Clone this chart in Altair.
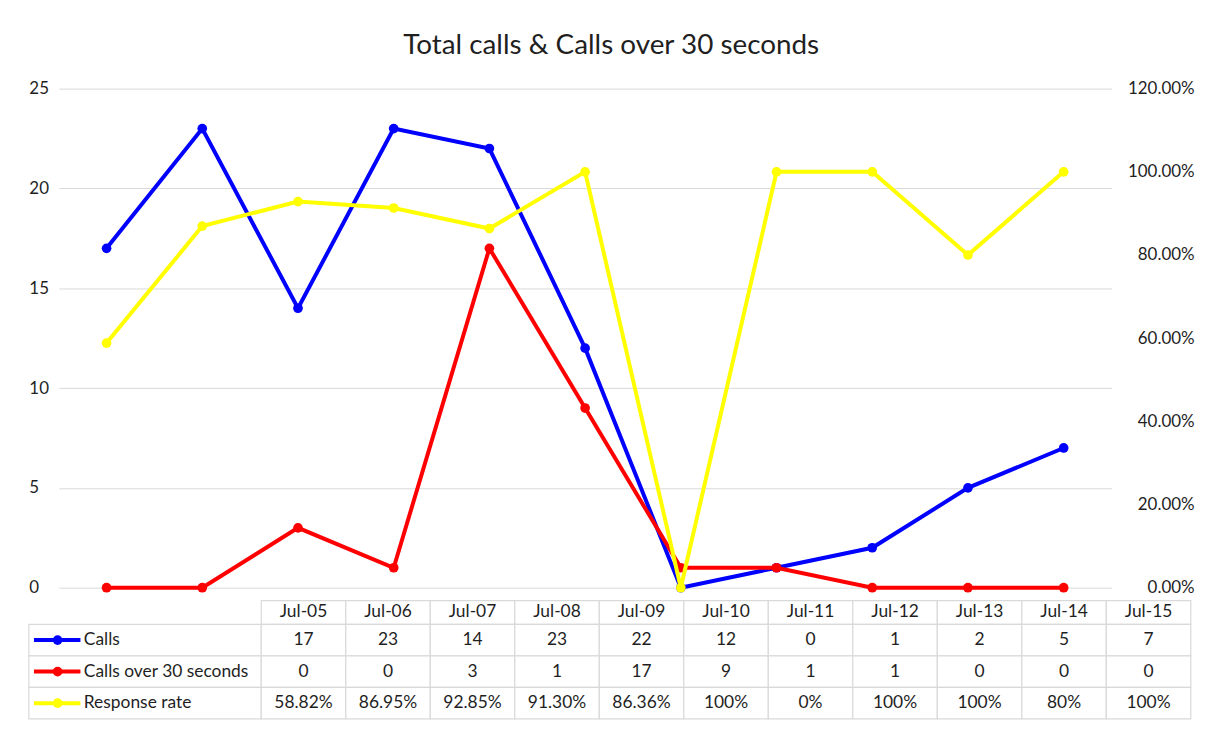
import altair as alt
import pandas as pd

# ---------------- data ----------------
dates = ["Jul-05", "Jul-06", "Jul-07", "Jul-08", "Jul-09", "Jul-10",
         "Jul-11", "Jul-12", "Jul-13", "Jul-14", "Jul-15"]
calls = [17, 23, 14, 23, 22, 12, 0, 1, 2, 5, 7]
calls_over_30 = [0, 0, 3, 1, 17, 9, 1, 1, 0, 0, 0]
response_rate = [58.82, 86.95, 92.85, 91.30, 86.36, 100, 0, 100, 100, 80, 100]
response_labels = ["58.82%", "86.95%", "92.85%", "91.30%", "86.36%", "100%",
                   "0%", "100%", "100%", "80%", "100%"]
series_names = ["Calls", "Calls over 30 seconds", "Response rate"]
series_colors = ["#0000FF", "#FF0000", "#FFFF00"]
left_ticks = [0, 5, 10, 15, 20, 25]
right_ticks = [0, 0.2, 0.4, 0.6, 0.8, 1.0, 1.2]
title_text = "Total calls & Calls over 30 seconds"

FONT = "Lato"
TXT = "#1f1f1f"
GRID = "#d9d9d9"
W, H = 1059, 502

df = pd.DataFrame({
    "date": dates,
    "calls": calls,
    "over30": calls_over_30,
    "rate": [v / 100 for v in response_rate],
})

x_enc = alt.X("date:O", sort=dates, axis=None, scale=alt.Scale(padding=0.5))

left_axis = alt.Axis(values=left_ticks, grid=True, gridColor=GRID, gridWidth=1,
                     domain=False, ticks=False, labelAlign="left", labelPadding=30,
                     labelFont=FONT, labelFontSize=17, labelColor=TXT, title=None)
right_axis = alt.Axis(orient="right", values=right_ticks, format=".2%", grid=False,
                      domain=False, ticks=False, labelAlign="right", labelPadding=83,
                      labelFont=FONT, labelFontSize=17, labelColor=TXT, title=None)

left_scale = alt.Scale(domain=[0, 25])
right_scale = alt.Scale(domain=[0, 1.2])


def series(field, color, scale, axis):
    base = alt.Chart(df).encode(
        x=x_enc, y=alt.Y(f"{field}:Q", scale=scale, axis=axis))
    line = base.mark_line(color=color, strokeWidth=4)
    pts = base.mark_point(filled=True, color=color, size=95, opacity=1)
    return line, pts


bl, bp = series("calls", series_colors[0], left_scale, left_axis)
rl, rp = series("over30", series_colors[1], left_scale, left_axis)
yl, yp = series("rate", series_colors[2], right_scale, right_axis)

left_layer = alt.layer(bl, bp, rl, rp)
right_layer = alt.layer(yl, yp)
top = alt.layer(left_layer, right_layer).resolve_scale(y="independent").properties(
    width=W, height=H)

# ---------------- data table ----------------
LABEL_W = 2.75
HEADER_H = 0.75
n = len(dates)
TABLE_H = 119

cells = []
for r in range(4):
    for c in range(-1, n):
        if r == 0 and c == -1:
            continue
        x0 = -LABEL_W if c == -1 else c
        x1 = 0 if c == -1 else c + 1
        y0 = 0 if r == 0 else HEADER_H + (r - 1)
        y1 = HEADER_H if r == 0 else HEADER_H + r
        cells.append({"x0": x0, "x1": x1, "y0": y0, "y1": y1})
cells_df = pd.DataFrame(cells)

texts = []
for c, d in enumerate(dates):
    texts.append({"x": c + 0.5, "y": HEADER_H / 2, "t": d})
row_values = [
    [str(v) for v in calls],
    [str(v) for v in calls_over_30],
    response_labels,
]
for r, vals in enumerate(row_values):
    for c, v in enumerate(vals):
        texts.append({"x": c + 0.5, "y": HEADER_H + r + 0.5, "t": v})
texts_df = pd.DataFrame(texts)

legend_df = pd.DataFrame({
    "name": series_names,
    "color": series_colors,
    "y": [HEADER_H + r + 0.5 for r in range(3)],
    "k0": [-LABEL_W + 0.06] * 3,
    "k1": [-LABEL_W + 0.61] * 3,
    "km": [-LABEL_W + 0.34] * 3,
    "tx": [-LABEL_W + 0.65] * 3,
})

tx_scale = alt.Scale(domain=[-LABEL_W, n], range=[-30, -30 + (n + LABEL_W) * 85])
ty_scale = alt.Scale(domain=[0, HEADER_H + 3], range=[0, TABLE_H])

cell_layer = alt.Chart(cells_df).mark_rect(
    fill="white", stroke=GRID, strokeWidth=1.2).encode(
    x=alt.X("x0:Q", scale=tx_scale, axis=None), x2="x1:Q",
    y=alt.Y("y0:Q", scale=ty_scale, axis=None), y2="y1:Q")

text_layer = alt.Chart(texts_df).mark_text(
    font=FONT, fontSize=17.5, color=TXT, align="center", baseline="middle").encode(
    x=alt.X("x:Q", scale=tx_scale, axis=None),
    y=alt.Y("y:Q", scale=ty_scale, axis=None),
    text="t:N")

color_scale = alt.Scale(domain=series_names, range=series_colors)

key_lines = alt.Chart(legend_df).mark_rule(strokeWidth=4).encode(
    x=alt.X("k0:Q", scale=tx_scale, axis=None), x2="k1:Q",
    y=alt.Y("y:Q", scale=ty_scale, axis=None),
    color=alt.Color("name:N", scale=color_scale, legend=None))
key_pts = alt.Chart(legend_df).mark_point(filled=True, size=95, opacity=1).encode(
    x=alt.X("km:Q", scale=tx_scale, axis=None),
    y=alt.Y("y:Q", scale=ty_scale, axis=None),
    color=alt.Color("name:N", scale=color_scale, legend=None))
key_text = alt.Chart(legend_df).mark_text(
    font=FONT, fontSize=17.5, color=TXT, align="left", baseline="middle").encode(
    x=alt.X("tx:Q", scale=tx_scale, axis=None),
    y=alt.Y("y:Q", scale=ty_scale, axis=None),
    text="name:N")

table = alt.layer(cell_layer, text_layer, key_lines, key_pts, key_text).properties(
    width=W, height=TABLE_H)

chart = alt.vconcat(top, table, spacing=4).properties(
    title=alt.TitleParams(title_text, anchor="middle", font=FONT, fontSize=28,
                          fontWeight="normal", color=TXT, offset=20),
    padding={"left": 20, "top": 22, "right": 5, "bottom": 5},
    background="white",
).configure_view(stroke=None)

chart.save("out.html", embed_options={"renderer": "svg", "actions": False})
